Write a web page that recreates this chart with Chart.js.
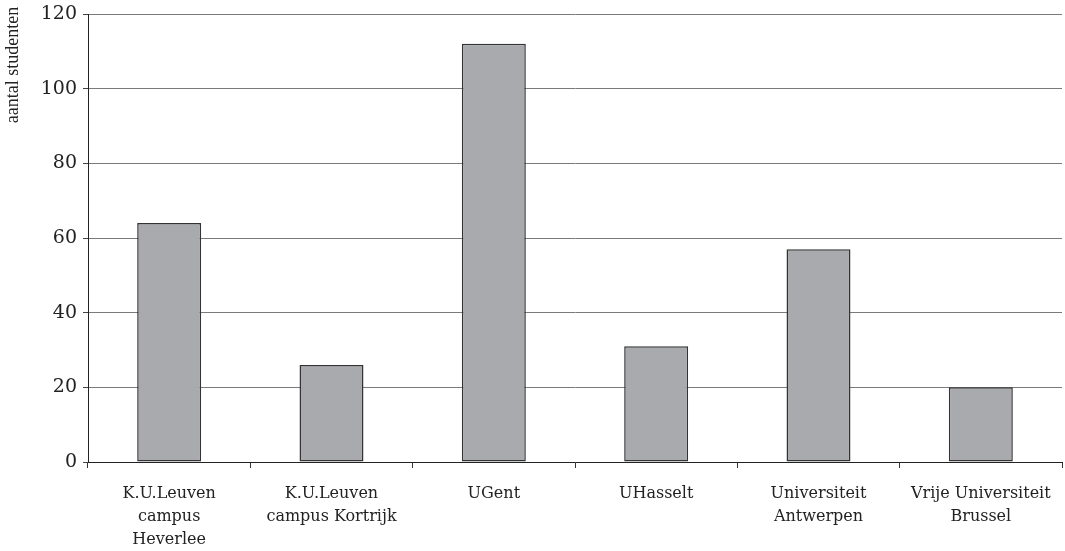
<!DOCTYPE html>
<html>
<head>
<meta charset="utf-8">
<title>Aantal studenten per universiteit</title>
<script src="https://cdn.jsdelivr.net/npm/chart.js@4/dist/chart.umd.min.js"></script>
<style>
  html, body { margin: 0; padding: 0; background: #fff; }
  #wrap { width: 1065px; height: 551px; }
</style>
</head>
<body>
<div id="wrap"><canvas id="chart" width="1065" height="551"></canvas></div>
<script>
  // universities, one entry per bar (split over lines as printed)
  var universities = [
    ['K.U.Leuven', 'campus', 'Heverlee'],
    ['K.U.Leuven', 'campus Kortrijk'],
    'UGent',
    'UHasselt',
    ['Universiteit', 'Antwerpen'],
    ['Vrije Universiteit', 'Brussel']
  ];
  var students = [64, 26, 112, 31, 57, 20];
  var yTicks = [0, 20, 40, 60, 80, 100, 120];
  var yTitle = 'aantal studenten';

  var serif = "'DejaVu Serif', serif";

  // rotated axis title, sits at the top left next to the value axis
  var yTitlePlugin = {
    id: 'yTitle',
    afterDraw: function (chart) {
      var ctx = chart.ctx;
      ctx.save();
      ctx.translate(13, 65);
      ctx.rotate(-Math.PI / 2);
      ctx.font = "18px 'Liberation Serif', serif";
      ctx.fillStyle = '#222';
      ctx.textAlign = 'center';
      ctx.textBaseline = 'middle';
      ctx.fillText(yTitle, 0, 0);
      ctx.restore();
    }
  };

  new Chart(document.getElementById('chart'), {
    type: 'bar',
    data: {
      labels: universities,
      datasets: [{
        data: students,
        backgroundColor: '#a9aaae',
        borderColor: '#333',
        borderWidth: 1.5,
        borderSkipped: false,
        categoryPercentage: 1,
        barPercentage: 0.394
      }]
    },
    options: {
      responsive: false,
      devicePixelRatio: 1,
      animation: false,
      layout: { padding: { top: 0, right: 3, left: 0, bottom: 0 } },
      plugins: {
        legend: { display: false },
        tooltip: { enabled: false }
      },
      scales: {
        x: {
          offset: true,
          grid: {
            offset: true,
            drawOnChartArea: false,
            drawTicks: true,
            tickLength: 6,
            tickColor: '#333'
          },
          border: { color: '#222', width: 1 },
          ticks: {
            font: { family: serif, size: 16, lineHeight: 1.45 },
            color: '#222',
            padding: 14,
            maxRotation: 0,
            autoSkip: false
          },
          afterFit: function (scale) { scale.height = 89; }
        },
        y: {
          min: 0,
          max: 120,
          afterBuildTicks: function (scale) {
            scale.ticks = yTicks.map(function (v) { return { value: v }; });
          },
          grid: {
            color: '#7a7a7a',
            lineWidth: 1,
            drawTicks: true,
            tickLength: 5,
            tickColor: '#444'
          },
          border: { color: '#222', width: 1 },
          ticks: {
            font: { family: serif, size: 19 },
            color: '#222',
            padding: 6
          },
          afterFit: function (scale) {
            scale.width = 88;
            scale.paddingTop = 14;
          }
        }
      }
    },
    plugins: [yTitlePlugin]
  });
</script>
</body>
</html>
